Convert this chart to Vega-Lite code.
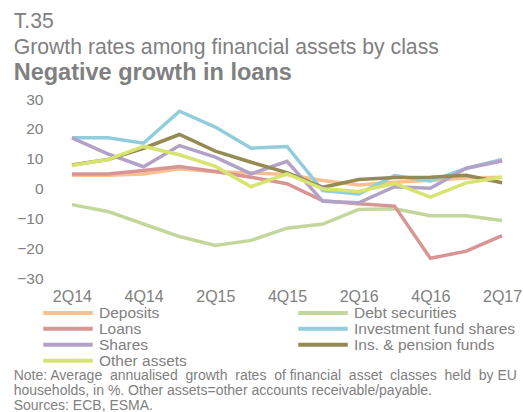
{
  "$schema": "https://vega.github.io/schema/vega-lite/v6.json",
  "padding": {"left": 13, "top": 10, "right": 0, "bottom": 0},
  "background": "white",
  "config": {
    "font": "Liberation Sans",
    "view": {"stroke": null},
    "text": {"color": "#808080"}
  },
  "title": {
    "text": [
      "Note: Average\u00a0 annualised\u00a0 growth\u00a0 rates\u00a0 of financial\u00a0 asset\u00a0 classes\u00a0 held\u00a0 by EU",
      "households, in %. Other assets=other accounts receivable/payable.",
      "Sources: ECB, ESMA."
    ],
    "orient": "bottom",
    "anchor": "start",
    "frame": "bounds",
    "fontSize": 14,
    "fontWeight": "normal",
    "color": "#808080",
    "lineHeight": 15,
    "offset": -1
  },
  "vconcat": [
    {
      "width": 466,
      "height": 179,
      "title": {
        "text": ["T.35", "Growth rates among financial assets by class"],
        "subtitle": "Negative growth in loans",
        "anchor": "start",
        "frame": "bounds",
        "fontSize": 21.2,
        "fontWeight": "normal",
        "color": "#808080",
        "lineHeight": 26.7,
        "subtitleFontSize": 23.5,
        "subtitleFontWeight": "bold",
        "subtitleColor": "#808080",
        "subtitlePadding": 2,
        "offset": 8,
        "dx": -3
      },
      "data": {
        "values": [
          {"q": "2Q14", "s": "Deposits", "v": 4.4}, {"q": "3Q14", "s": "Deposits", "v": 4.4}, {"q": "4Q14", "s": "Deposits", "v": 4.9}, {"q": "1Q15", "s": "Deposits", "v": 6.6}, {"q": "2Q15", "s": "Deposits", "v": 5.6}, {"q": "3Q15", "s": "Deposits", "v": 5.2}, {"q": "4Q15", "s": "Deposits", "v": 4.7}, {"q": "1Q16", "s": "Deposits", "v": 2.7}, {"q": "2Q16", "s": "Deposits", "v": 1.2}, {"q": "3Q16", "s": "Deposits", "v": 2.1}, {"q": "4Q16", "s": "Deposits", "v": 2.8}, {"q": "1Q17", "s": "Deposits", "v": 3.5}, {"q": "2Q17", "s": "Deposits", "v": 3.8},
          {"q": "2Q14", "s": "Debt securities", "v": -5.4}, {"q": "3Q14", "s": "Debt securities", "v": -7.7}, {"q": "4Q14", "s": "Debt securities", "v": -11.9}, {"q": "1Q15", "s": "Debt securities", "v": -16.1}, {"q": "2Q15", "s": "Debt securities", "v": -19.1}, {"q": "3Q15", "s": "Debt securities", "v": -17.4}, {"q": "4Q15", "s": "Debt securities", "v": -13.3}, {"q": "1Q16", "s": "Debt securities", "v": -11.9}, {"q": "2Q16", "s": "Debt securities", "v": -7.0}, {"q": "3Q16", "s": "Debt securities", "v": -6.8}, {"q": "4Q16", "s": "Debt securities", "v": -9.1}, {"q": "1Q17", "s": "Debt securities", "v": -9.1}, {"q": "2Q17", "s": "Debt securities", "v": -10.7},
          {"q": "2Q14", "s": "Loans", "v": 4.9}, {"q": "3Q14", "s": "Loans", "v": 4.9}, {"q": "4Q14", "s": "Loans", "v": 6.0}, {"q": "1Q15", "s": "Loans", "v": 7.4}, {"q": "2Q15", "s": "Loans", "v": 5.7}, {"q": "3Q15", "s": "Loans", "v": 3.8}, {"q": "4Q15", "s": "Loans", "v": 1.6}, {"q": "1Q16", "s": "Loans", "v": -4.1}, {"q": "2Q16", "s": "Loans", "v": -5.1}, {"q": "3Q16", "s": "Loans", "v": -5.9}, {"q": "4Q16", "s": "Loans", "v": -23.4}, {"q": "1Q17", "s": "Loans", "v": -21.0}, {"q": "2Q17", "s": "Loans", "v": -15.8},
          {"q": "2Q14", "s": "Investment fund shares", "v": 17.0}, {"q": "3Q14", "s": "Investment fund shares", "v": 17.0}, {"q": "4Q14", "s": "Investment fund shares", "v": 15.2}, {"q": "1Q15", "s": "Investment fund shares", "v": 25.9}, {"q": "2Q15", "s": "Investment fund shares", "v": 20.6}, {"q": "3Q15", "s": "Investment fund shares", "v": 13.5}, {"q": "4Q15", "s": "Investment fund shares", "v": 14.1}, {"q": "1Q16", "s": "Investment fund shares", "v": -0.7}, {"q": "2Q16", "s": "Investment fund shares", "v": -1.8}, {"q": "3Q16", "s": "Investment fund shares", "v": 4.3}, {"q": "4Q16", "s": "Investment fund shares", "v": 2.5}, {"q": "1Q17", "s": "Investment fund shares", "v": 6.7}, {"q": "2Q17", "s": "Investment fund shares", "v": 9.7},
          {"q": "2Q14", "s": "Shares", "v": 17.0}, {"q": "3Q14", "s": "Shares", "v": 11.6}, {"q": "4Q14", "s": "Shares", "v": 7.3}, {"q": "1Q15", "s": "Shares", "v": 14.4}, {"q": "2Q15", "s": "Shares", "v": 10.5}, {"q": "3Q15", "s": "Shares", "v": 4.9}, {"q": "4Q15", "s": "Shares", "v": 9.1}, {"q": "1Q16", "s": "Shares", "v": -4.3}, {"q": "2Q16", "s": "Shares", "v": -4.8}, {"q": "3Q16", "s": "Shares", "v": 0.6}, {"q": "4Q16", "s": "Shares", "v": 0.1}, {"q": "1Q17", "s": "Shares", "v": 6.8}, {"q": "2Q17", "s": "Shares", "v": 9.2},
          {"q": "2Q14", "s": "Ins. & pension funds", "v": 7.9}, {"q": "3Q14", "s": "Ins. & pension funds", "v": 9.7}, {"q": "4Q14", "s": "Ins. & pension funds", "v": 13.5}, {"q": "1Q15", "s": "Ins. & pension funds", "v": 18.1}, {"q": "2Q15", "s": "Ins. & pension funds", "v": 12.5}, {"q": "3Q15", "s": "Ins. & pension funds", "v": 8.8}, {"q": "4Q15", "s": "Ins. & pension funds", "v": 5.3}, {"q": "1Q16", "s": "Ins. & pension funds", "v": 0.4}, {"q": "2Q16", "s": "Ins. & pension funds", "v": 3.0}, {"q": "3Q16", "s": "Ins. & pension funds", "v": 3.7}, {"q": "4Q16", "s": "Ins. & pension funds", "v": 3.8}, {"q": "1Q17", "s": "Ins. & pension funds", "v": 4.4}, {"q": "2Q17", "s": "Ins. & pension funds", "v": 1.9},
          {"q": "2Q14", "s": "Other assets", "v": 7.7}, {"q": "3Q14", "s": "Other assets", "v": 9.7}, {"q": "4Q14", "s": "Other assets", "v": 14.1}, {"q": "1Q15", "s": "Other assets", "v": 11.3}, {"q": "2Q15", "s": "Other assets", "v": 7.4}, {"q": "3Q15", "s": "Other assets", "v": 0.6}, {"q": "4Q15", "s": "Other assets", "v": 4.9}, {"q": "1Q16", "s": "Other assets", "v": -0.1}, {"q": "2Q16", "s": "Other assets", "v": -1.0}, {"q": "3Q16", "s": "Other assets", "v": 1.7}, {"q": "4Q16", "s": "Other assets", "v": -2.9}, {"q": "1Q17", "s": "Other assets", "v": 1.9}, {"q": "2Q17", "s": "Other assets", "v": 3.8}
        ]
      },
      "mark": {"type": "line", "strokeWidth": 3.5, "strokeJoin": "miter", "strokeCap": "butt"},
      "encoding": {
        "x": {
          "field": "q",
          "type": "ordinal",
          "sort": null,
          "scale": {"type": "point", "padding": 0.5},
          "axis": {
            "title": null,
            "values": ["2Q14", "4Q14", "2Q15", "4Q15", "2Q16", "4Q16", "2Q17"],
            "labelAngle": 0,
            "labelFontSize": 16,
            "labelColor": "#808080",
            "labelPadding": 10,
            "domain": false,
            "ticks": false,
            "grid": false
          }
        },
        "y": {
          "field": "v",
          "type": "quantitative",
          "scale": {"domain": [-30, 30], "nice": false, "zero": false},
          "axis": {
            "title": null,
            "values": [-30, -20, -10, 0, 10, 20, 30],
            "labelFontSize": 15.5,
            "labelColor": "#808080",
            "labelPadding": 11,
            "domain": false,
            "ticks": false,
            "grid": false
          }
        },
        "color": {
          "field": "s",
          "type": "nominal",
          "sort": ["Deposits", "Debt securities", "Loans", "Investment fund shares", "Shares", "Ins. & pension funds", "Other assets"],
          "scale": {
            "domain": ["Deposits", "Debt securities", "Loans", "Investment fund shares", "Shares", "Ins. & pension funds", "Other assets"],
            "range": ["#FAC090", "#C3D69B", "#D99594", "#92CDDC", "#B3A2C7", "#948A54", "#D7E46F"]
          },
          "legend": {
            "title": null,
            "orient": "none",
            "legendX": -13,
            "legendY": 206.5,
            "direction": "horizontal",
            "columns": 2,
            "symbolType": "stroke",
            "symbolSize": 2450,
            "symbolStrokeWidth": 4,
            "clipHeight": 14.5,
            "rowPadding": 0,
            "columnPadding": 109,
            "labelFontSize": 15.5,
            "labelColor": "#808080",
            "labelOffset": 4,
            "labelLimit": 300
          }
        }
      }
    }
  ]
}
